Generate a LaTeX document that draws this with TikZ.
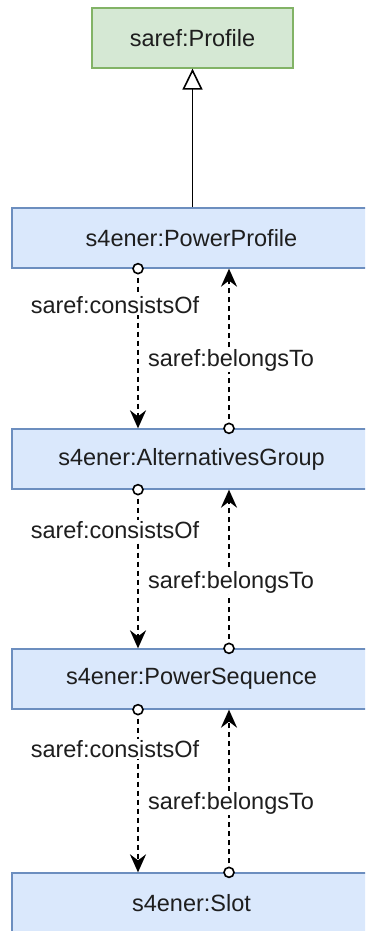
\documentclass[tikz,border=0pt]{standalone}
\usepackage{fontspec}
\setmainfont{Liberation Sans}
\usetikzlibrary{arrows.meta}
\definecolor{greenfill}{HTML}{D5E8D4}
\definecolor{greenline}{HTML}{82B366}
\definecolor{bluefill}{HTML}{DAE8FC}
\definecolor{blueline}{HTML}{6C8EBF}
\definecolor{ink}{HTML}{1E1E1E}
\tikzset{
  classbox/.style={rectangle, minimum height=60pt, inner sep=0pt, line width=1.3pt,
    font=\fontsize{23.5}{28}\selectfont, text=ink},
  superclass/.style={classbox, draw=greenline, fill=greenfill, minimum width=201pt},
  ener/.style={classbox, draw=blueline, fill=bluefill, minimum width=359pt},
  rel/.style={draw=black, line width=2pt, dash pattern=on 5pt off 4pt,
    -{Stealth[length=18pt, width=16pt, inset=6pt]}},
  ring/.style={draw=black, line width=1.6pt, fill=white},
  relname/.style={fill=white, inner sep=1pt, text=ink, font=\fontsize{23.5}{28}\selectfont},
  isa/.style={draw=black, line width=1.6pt, -{Triangle[open, length=21pt, width=20pt]}}
}
\begin{document}
\begin{tikzpicture}[x=1pt, y=-1pt]
  \path[use as bounding box, clip] (0,0) rectangle (365,931);
  \fill[white] (0,0) rectangle (365,931);

  % classes
  \node[superclass] (profile) at (192.5,38)  {saref:Profile};
  \node[ener] (pp)   at (191.5,238) {s4ener:PowerProfile};
  \node[ener] (ag)   at (191.5,459) {s4ener:AlternativesGroup};
  \node[ener] (ps)   at (191.5,679) {s4ener:PowerSequence};
  \node[ener] (slot) at (191.5,903) {s4ener:Slot};

  % columns of the two relations
  \coordinate (xl) at (138,0);
  \coordinate (xr) at (229,0);
  \coordinate (xm) at (192.5,0);

  % subclass link
  \draw[isa] (pp.north -| xm) -- (profile.south -| xm);

  % consistsOf (downwards) and belongsTo (upwards) between neighbours
  \foreach \up/\down/\yc/\yb in {pp/ag/305/360, ag/ps/530/582, ps/slot/749/803} {
    \draw[rel] (\up.south -| xl) -- (\down.north -| xl);
    \draw[rel] (\down.north -| xr) -- (\up.south -| xr);
    \draw[ring] (\up.south -| xl) circle[radius=5pt];
    \draw[ring] (\down.north -| xr) circle[radius=5pt];
    \node[relname] (c-\up) at (115,\yc) {saref:consistsOf};
    \node[relname] (b-\up) at (231,\yb) {saref:belongsTo};
  }
\end{tikzpicture}
\end{document}
